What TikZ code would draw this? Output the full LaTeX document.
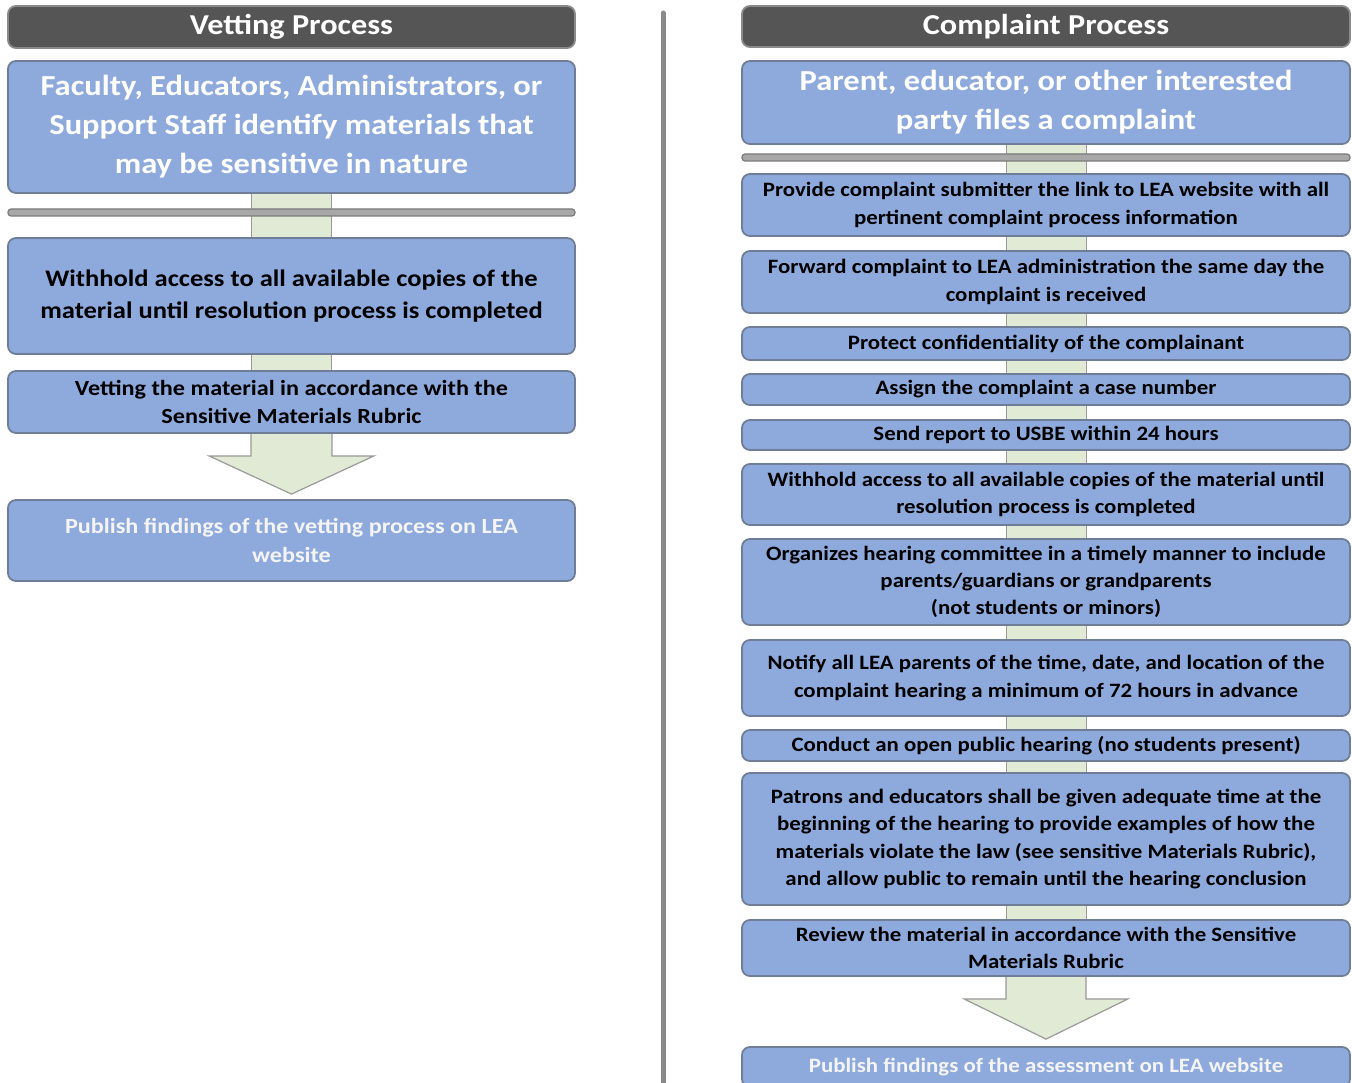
\documentclass[tikz,border=0pt]{standalone}
\usepackage{fontspec}
\setmainfont{Carlito}[FakeStretch=1.12]
\usetikzlibrary{calc}
\pgfdeclarelayer{bg}
\pgfsetlayers{bg,main}
\definecolor{boxblue}{HTML}{8EA9DB}
\definecolor{boxedge}{HTML}{6F7E96}
\definecolor{titlefill}{HTML}{555555}
\definecolor{titleedge}{HTML}{8A8A8A}
\definecolor{stripgreen}{HTML}{E0EAD5}
\definecolor{stripedge}{HTML}{9A9A9A}
\definecolor{barfill}{HTML}{A8A8A8}
\definecolor{baredge}{HTML}{7A7A7A}
\definecolor{softwhite}{HTML}{F4F4F4}
\begin{document}
\begin{tikzpicture}[x=1pt,y=-1pt,
  box/.style={draw=boxedge, fill=boxblue, rounded corners=8pt, line width=1.8pt, align=center, inner sep=0pt, text=black},
  small/.style={font=\fontsize{20.4}{27.3}\selectfont\bfseries},
  smallL/.style={font=\fontsize{21.6}{28.5}\selectfont\bfseries},
  big/.style={font=\fontsize{29}{39}\selectfont\bfseries, text=white},
  mid/.style={font=\fontsize{23.7}{32}\selectfont\bfseries},
  titlebox/.style={draw=titleedge, fill=titlefill, rounded corners=8pt, line width=1.8pt, text=white, inner sep=0pt, font=\fontsize{28.8}{32}\selectfont\bfseries},
  sepbar/.style={draw=baredge, fill=barfill, rounded corners=3pt, line width=1.2pt, inner sep=0pt, minimum height=7pt},
  strip/.style={draw=stripedge, line width=1pt, double=stripgreen, double distance=79pt},
  bigarrow/.style={draw=stripedge, fill=stripgreen, line width=1.2pt, line join=miter}
]
\useasboundingbox (0,0) rectangle (1352,1083);
\begin{pgfonlayer}{bg}
\fill[white] (0,0) rectangle (1352,1083);
\end{pgfonlayer}

% divider
\draw[line width=5pt, color=titleedge, line cap=round] (663,13) -- (663,1095);

% ---------------- Vetting Process ----------------
\def\LW{567pt}
\node[titlebox, minimum width=\LW, minimum height=42pt] (vt) at (291.5,27) {Vetting Process};
\node[box, big, minimum width=\LW, minimum height=132pt] (v1) at (291.5,127)
  {Faculty, Educators, Administrators, or\\Support Staff identify materials that\\may be sensitive in nature};
\node[sepbar, minimum width=\LW] (vbar) at (291.5,212.5) {};
\node[box, mid, minimum width=\LW, minimum height=116pt] (v2) at (291.5,296)
  {Withhold access to all available copies of the\\material until resolution process is completed};
\node[box, smallL, minimum width=\LW, minimum height=62pt] (v3) at (291.5,402)
  {Vetting the material in accordance with the\\Sensitive Materials Rubric};
\node[box, smallL, text=softwhite, minimum width=\LW, minimum height=81pt] (v4) at (291.5,540.5)
  {Publish findings of the vetting process on LEA\\website};

% ---------------- Complaint Process ----------------
\def\RW{608pt}
\node[titlebox, minimum width=\RW, minimum height=41pt] (ct) at (1046,26.5) {Complaint Process};
\node[box, big, minimum width=\RW, minimum height=83pt] (c1) at (1046,102.5)
  {Parent, educator, or other interested\\party files a complaint};
\node[sepbar, minimum width=\RW] (cbar) at (1046,157.5) {};
\node[box, small, minimum width=\RW, minimum height=62pt] (c2) at (1046,205)
  {Provide complaint submitter the link to LEA website with all\\pertinent complaint process information};
\node[box, small, minimum width=\RW, minimum height=62pt] (c3) at (1046,282)
  {Forward complaint to LEA administration the same day the\\complaint is received};
\node[box, small, minimum width=\RW, minimum height=33pt] (c4) at (1046,343.5)
  {Protect confidentiality of the complainant};
\node[box, small, minimum width=\RW, minimum height=31pt] (c5) at (1046,389.5)
  {Assign the complaint a case number};
\node[box, small, minimum width=\RW, minimum height=30pt] (c6) at (1046,435)
  {Send report to USBE within 24 hours};
\node[box, small, minimum width=\RW, minimum height=61pt] (c7) at (1046,494.5)
  {Withhold access to all available copies of the material until\\resolution process is completed};
\node[box, small, minimum width=\RW, minimum height=86pt] (c8) at (1046,582)
  {Organizes hearing committee in a timely manner to include\\parents/guardians or grandparents\\(not students or minors)};
\node[box, small, minimum width=\RW, minimum height=76pt] (c9) at (1046,678)
  {Notify all LEA parents of the time, date, and location of the\\complaint hearing a minimum of 72 hours in advance};
\node[box, small, minimum width=\RW, minimum height=31pt] (c10) at (1046,745.5)
  {Conduct an open public hearing (no students present)};
\node[box, small, minimum width=\RW, minimum height=132pt] (c11) at (1046,839)
  {Patrons and educators shall be given adequate time at the\\beginning of the hearing to provide examples of how the\\materials violate the law (see sensitive Materials Rubric),\\and allow public to remain until the hearing conclusion};
\node[box, small, minimum width=\RW, minimum height=56pt] (c12) at (1046,948)
  {Review the material in accordance with the Sensitive\\Materials Rubric};
\node[box, small, text=softwhite, minimum width=\RW, minimum height=40pt] (c13) at (1046,1067)
  {Publish findings of the assessment on LEA website};

% ---------------- connectors ----------------
\begin{pgfonlayer}{bg}
  \draw[strip] (v1.south) -- (v2.north);
  \draw[strip] (v2.south) -- (v3.north);
  \draw[strip] (c1.south) -- (c2.north);
  \foreach \a/\b in {c2/c3,c3/c4,c4/c5,c5/c6,c6/c7,c7/c8,c8/c9,c9/c10,c10/c11,c11/c12}
    \draw[strip] (\a.south) -- (\b.north);
  % big arrows
  \draw[bigarrow] ($(v3.south)+(-40.5,-3)$) -- ++(0,25) -- ++(-42,0)
     -- ($(v4.north)+(0,-5)$) -- ($(v3.south)+(82.5,22)$) -- ++(-42,0) -- ++(0,-25);
  \draw[bigarrow] ($(c12.south)+(-40,-3)$) -- ++(0,25) -- ++(-42,0)
     -- ($(c13.north)+(0,-7)$) -- ($(c12.south)+(82,22)$) -- ++(-42,0) -- ++(0,-25);
\end{pgfonlayer}
\end{tikzpicture}
\end{document}
